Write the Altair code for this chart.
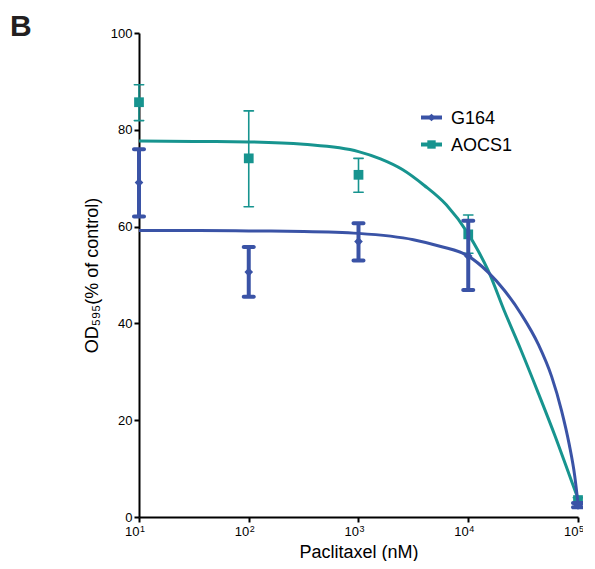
import altair as alt
import pandas as pd

FONT = "Liberation Sans"
BLUE = "#3A53A6"
TEAL = "#17948F"

doses = [10, 100, 1000, 10000, 100000]
dose_exponents = ["1", "2", "3", "4", "5"]
series = ["G164", "AOCS1"]

g164_mean = [69.1, 50.6, 56.9, 53.9, 2.4]
g164_low = [62.1, 45.5, 53.0, 46.9, 2.0]
g164_high = [76.0, 55.8, 60.7, 61.2, 2.9]

aocs1_mean = [85.7, 74.1, 70.7, 58.4, 3.5]
aocs1_low = [81.9, 64.1, 67.1, 54.5, 3.0]
aocs1_high = [89.3, 83.9, 74.1, 62.4, 4.0]

# fitted curves (log10 dose, value)
g164_fit_logx = [1.0, 1.5, 2.0, 2.5, 3.0, 3.5, 3.75, 4.0, 4.18, 4.33, 4.48, 4.64,
                 4.76, 4.85, 4.92, 4.97, 5.0]
g164_fit_y = [59.2, 59.2, 59.1, 59.0, 58.6, 57.3, 55.9, 53.9, 50.6, 46.8, 42.0, 35.6,
              29.0, 22.0, 15.0, 8.5, 2.8]

aocs1_fit_logx = [1.0, 1.5, 2.0, 2.5, 3.0, 3.2, 3.4, 3.6, 3.8, 4.0, 4.09, 4.18,
                  4.33, 4.48, 4.64, 4.79, 4.94, 5.0]
aocs1_fit_y = [77.7, 77.6, 77.5, 77.0, 75.5, 74.0, 71.8, 68.5, 64.5, 58.5, 55.0, 51.0,
               42.5, 34.5, 25.5, 16.8, 7.5, 3.8]

x_ticks = [10, 100, 1000, 10000, 100000]
y_ticks = [0, 20, 40, 60, 80, 100]

xscale = alt.Scale(type="log", domain=[10, 100000], nice=False, padding=0)
yscale = alt.Scale(domain=[0, 100], nice=False, zero=False, padding=0)

xax = alt.Axis(values=x_ticks, labelExpr="'10'", labelAlign="right", title="Paclitaxel (nM)",
               grid=False, domainColor="black", domainWidth=2, tickColor="black",
               tickWidth=2, tickSize=5, labelFont=FONT, labelFontSize=13, labelColor="black",
               titleFont=FONT, titleFontSize=18, titleFontWeight="normal", titleColor="black",
               labelPadding=3, titlePadding=5, labelFlush=False)
yax = alt.Axis(values=y_ticks, title="OD₅₉₅(% of control)", grid=False,
               domainColor="black", domainWidth=2, tickColor="black", tickWidth=2,
               tickSize=5, labelFont=FONT, labelFontSize=13, labelColor="black",
               titleFont=FONT, titleFontSize=18, titleFontWeight="normal", titleColor="black",
               labelPadding=2, titlePadding=9)


def X(field):
    return alt.X(field, scale=xscale, axis=xax)


def Y(field):
    return alt.Y(field, scale=yscale, axis=yax)


def series_layers(color, means, lows, highs, fitx, fity, shape, psize, ew, capw):
    pts = pd.DataFrame({"dose": doses, "mean": means, "low": lows, "high": highs})
    fit = pd.DataFrame({"dose": [10 ** v for v in fitx], "val": fity})
    line = alt.Chart(fit).mark_line(color=color, strokeWidth=3, interpolate="monotone").encode(
        x=X("dose:Q"), y=Y("val:Q"))
    bars = alt.Chart(pts).mark_rule(color=color, strokeWidth=ew).encode(
        x=X("dose:Q"), y=Y("low:Q"), y2="high:Q")
    cap_lo = alt.Chart(pts).mark_tick(color=color, orient="horizontal", size=capw,
                                      thickness=ew, opacity=1, cornerRadius=ew / 2).encode(
        x=X("dose:Q"), y=Y("low:Q"))
    cap_hi = alt.Chart(pts).mark_tick(color=color, orient="horizontal", size=capw,
                                      thickness=ew, opacity=1, cornerRadius=ew / 2).encode(
        x=X("dose:Q"), y=Y("high:Q"))
    points = alt.Chart(pts).mark_point(color=color, fill=color, filled=True, shape=shape,
                                       size=psize, opacity=1).encode(
        x=X("dose:Q"), y=Y("mean:Q"))
    return [line, bars, cap_lo, cap_hi, points]


teal_layers = series_layers(TEAL, aocs1_mean, aocs1_low, aocs1_high,
                            aocs1_fit_logx, aocs1_fit_y, "square", 95, 1.6, 11)
blue_layers = series_layers(BLUE, g164_mean, g164_low, g164_high,
                            g164_fit_logx, g164_fit_y, "diamond", 75, 4, 14)

# superscript exponents of the x tick labels
exp_df = pd.DataFrame({"dose": doses, "e": dose_exponents})
exps = alt.Chart(exp_df).mark_text(align="left", baseline="alphabetic", font=FONT,
                                   fontSize=9, color="black", dx=1).encode(
    x=X("dose:Q"), y=alt.value(499), text="e:N")

# legend
legend_df = pd.DataFrame({"name": series})
leg = []
for i, (name, color, shape, psize) in enumerate([(series[0], BLUE, "diamond", 60),
                                                 (series[1], TEAL, "square", 70)]):
    yy = 84.5 + i * 27
    base = alt.Chart(legend_df[legend_df["name"] == name])
    leg.append(base.mark_rule(color=color, strokeWidth=4).encode(
        x=alt.value(282), x2=alt.value(303), y=alt.value(yy)))
    leg.append(base.mark_point(color=color, fill=color, filled=True, shape=shape,
                               size=psize, opacity=1).encode(
        x=alt.value(292.5), y=alt.value(yy)))
    leg.append(base.mark_text(align="left", baseline="middle", font=FONT, fontSize=18,
                              color="black").encode(
        x=alt.value(312), y=alt.value(yy + 1), text="name:N"))

panel = alt.Chart(pd.DataFrame({"t": ["B"]})).mark_text(
    align="left", baseline="alphabetic", font=FONT, fontSize=30, fontWeight="bold",
    color="#231F20").encode(x=alt.value(-129), y=alt.value(3), text="t:N")

chart = alt.layer(*teal_layers, *blue_layers, exps, *leg, panel).properties(
    width=439, height=484,
    autosize=alt.AutoSizeParams(type="none"),
    padding={"left": 131, "top": 25, "right": 5, "bottom": 44},
).configure_view(stroke=None)

chart.save("out.html", embed_options={"renderer": "svg", "actions": False})
